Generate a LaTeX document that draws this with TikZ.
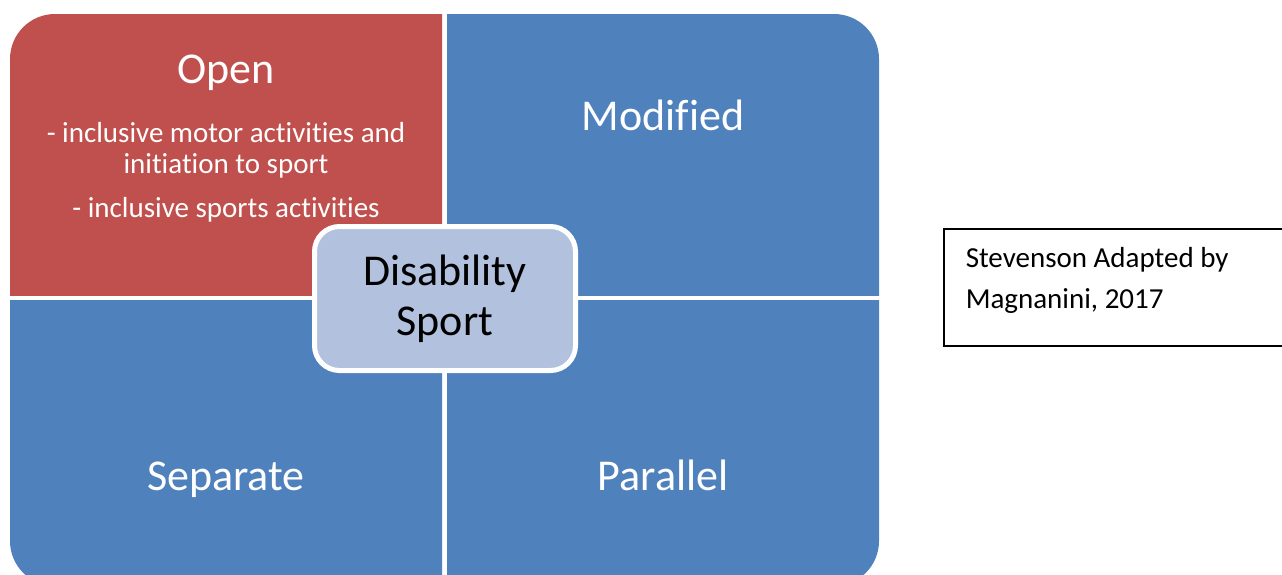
\documentclass[tikz,border=0pt]{standalone}
\usepackage{fontspec}
\setmainfont{Carlito}[Ligatures=NoCommon]
\usetikzlibrary{calc,positioning}
\definecolor{openred}{HTML}{C0504D}
\definecolor{sportblue}{HTML}{4F81BD}
\definecolor{hubblue}{HTML}{B2C1DE}

\begin{document}
\begin{tikzpicture}[
  x=1pt, y=-1pt,
  title/.style={anchor=base,text=white,font=\fontsize{44}{50}\selectfont,inner sep=0pt},
  body/.style={anchor=base,text=white,align=center,font=\fontsize{29}{31}\selectfont,inner sep=0pt},
  hub/.style={rectangle,rounded corners=25pt,fill=hubblue,draw=white,line width=5pt,
    minimum width=261pt,minimum height=144pt,align=center,text=black,
    font=\fontsize{44}{50}\selectfont},
  creditbox/.style={rectangle,draw=black,line width=1.5pt,anchor=north west,
    text width=300pt,align=flush left,inner xsep=22pt,inner ysep=0pt,
    text height=39pt,text depth=78pt,font=\fontsize{29}{41}\selectfont},
  ]

  \useasboundingbox (0,0) rectangle (1282,574);
  \clip (0,0) rectangle (1282,574);

  \coordinate (frame_nw) at (10,14);
  \coordinate (frame_se) at (879,586);

  % four quarters cut out of one rounded frame
  \foreach \xa/\ya/\xb/\yb/\c in {10/14/442/295/openred,447/14/879/295/sportblue,%
      10/300/442/586/sportblue,447/300/879/586/sportblue}
  {
    \begin{scope}
      \clip (\xa,\ya) rectangle (\xb,\yb);
      \fill[\c, rounded corners=45pt] (frame_nw) rectangle (frame_se);
    \end{scope}
  }

  \node (open) [title] at (226,83) {Open};
  % base of a two-line node sits on its last line
  \node (open_list) [body] at (226,173) {- inclusive motor activities and\\initiation to sport};
  \node (open_sport) [body] at (226,217) {- inclusive sports activities};
  \node (modified) [title] at (663,130) {Modified};
  \node (separate) [title] at (226,490) {Separate};
  \node (parallel) [title] at (663,490) {Parallel};

  \node (sport) [hub] at (445,298.5) {Disability\\Sport};

  %\draw[thick] (943,228) rectangle (1290,345);
  \node (credit) [creditbox] at (943,228) {Stevenson Adapted by\\Magnanini, 2017};

\end{tikzpicture}
\end{document}
